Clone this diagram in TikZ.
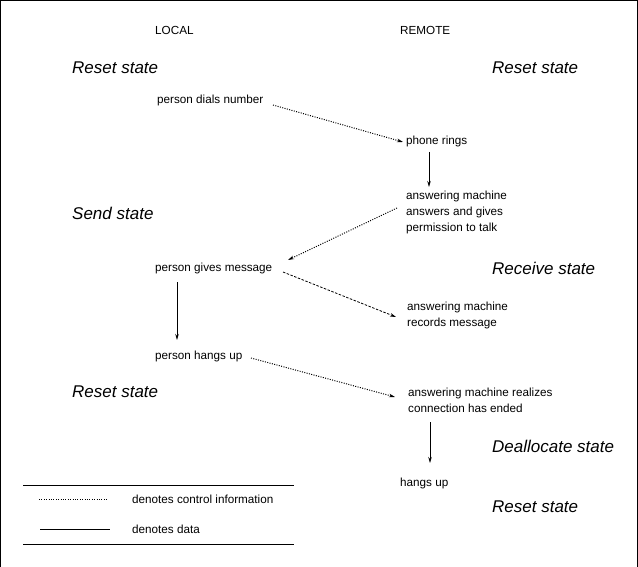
\documentclass[tikz,border=0pt]{standalone}
\usepackage{fontspec}
\setmainfont{Liberation Sans}
\usetikzlibrary{arrows.meta}
\begin{document}
\begin{tikzpicture}[x=1pt,y=-1pt,
  txt/.style={anchor=west,inner sep=0pt,align=left,font=\fontsize{11.7}{16}\selectfont},
  st/.style={anchor=west,inner sep=0pt,font=\fontsize{17}{20}\selectfont\itshape},
  ctrl/.style={line width=1pt,dash pattern=on 1pt off 1.4pt},
  dat/.style={line width=0.8pt},
  dsh/.style={line width=0.8pt,dash pattern=on 2.5pt off 1.5pt},
  tip/.style={-{Stealth[length=6pt,width=3.5pt]}}]
\useasboundingbox (0,0) rectangle (638,567);
\draw[line width=1pt] (0.5,567) -- (0.5,0.5) -- (637.5,0.5) -- (637.5,567);
% headers
\node[txt] (local) at (155,30) {LOCAL};
\node[txt] (remote) at (400,30) {REMOTE};
% states
\node[st] (rs1) at (72,68) {Reset state};
\node[st] (rs2) at (492,68) {Reset state};
\node[st] (send) at (72,213) {Send state};
\node[st] (receive) at (492,268) {Receive state};
\node[st] (rs3) at (72,392) {Reset state};
\node[st] (dealloc) at (492,446) {Deallocate state};
\node[st] (rs4) at (492,507) {Reset state};
% events
\node[txt] (dials) at (157,100) {person dials number};
\node[txt] (rings) at (406,141) {phone rings};
\node[txt] (answers) at (406,212) {answering machine\\answers and gives\\permission to talk};
\node[txt] (gives) at (155,268) {person gives message};
\node[txt] (records) at (407,315) {answering machine\\records message};
\node[txt] (hangs) at (155,356) {person hangs up};
\node[txt] (realizes) at (408,400) {answering machine realizes\\connection has ended};
\node[txt] (hangsup) at (400,483) {hangs up};
% connectors
\draw[ctrl,tip] ([shift={(116,5)}]dials.west) -- ([shift={(-3,1)}]rings.west);
\draw[dat,tip] ([shift={(23,11)}]rings.west) -- ([shift={(23,-25)}]answers.west);
\draw[ctrl,tip] ([shift={(-9,-4)}]answers.west) -- ([shift={(133,-8)}]gives.west);
\draw[dsh,tip] ([shift={(128,4)}]gives.west) -- ([shift={(-11,2)}]records.west);
\draw[dat,tip] ([shift={(22,14)}]gives.west) -- ([shift={(22,-16)}]hangs.west);
\draw[ctrl,tip] ([shift={(96,2)}]hangs.west) -- ([shift={(-13,-3)}]realizes.west);
\draw[dat,tip] ([shift={(22,22)}]realizes.west) -- ([shift={(30,-20)}]hangsup.west);
% legend
\coordinate (lt1) at (23,485); \coordinate (lt2) at (294,485);
\coordinate (lb1) at (23,544); \coordinate (lb2) at (294,544);
\coordinate (lc1) at (39,499); \coordinate (lc2) at (108,499);
\coordinate (ld1) at (40,529); \coordinate (ld2) at (110,529);
\draw[line width=0.9pt] (lt1) -- (lt2);
\draw[line width=0.9pt] (lb1) -- (lb2);
\draw[ctrl,line width=0.6pt] (lc1) -- (lc2);
\draw[dat] (ld1) -- (ld2);
\node[txt] (lgctrl) at (132,499) {denotes control information};
\node[txt] (lgdata) at (132,529) {denotes data};
\end{tikzpicture}
\end{document}
